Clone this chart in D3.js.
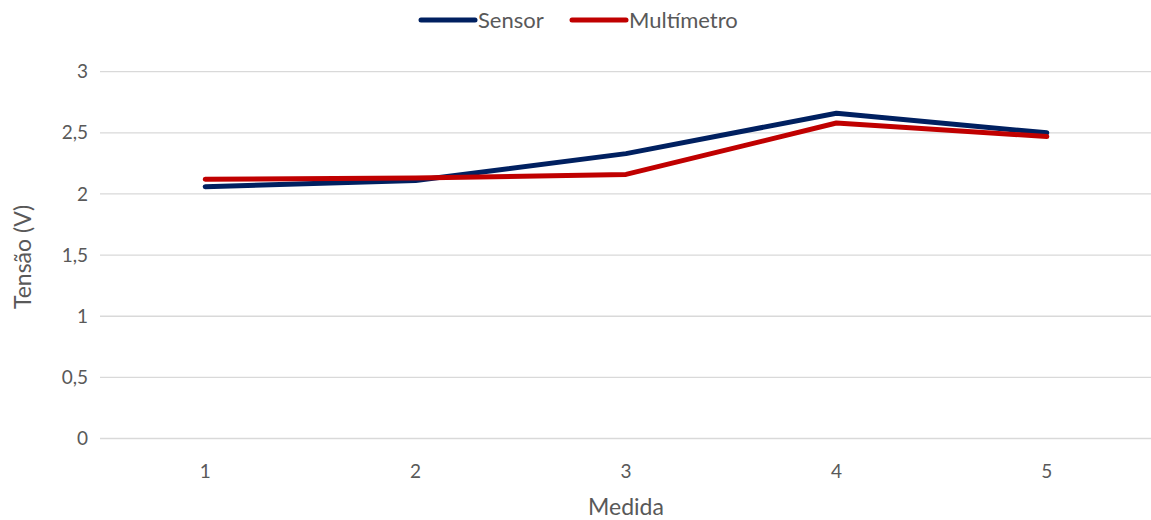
<!DOCTYPE html>
<html>
<head>
<meta charset="utf-8">
<script src="https://cdn.jsdelivr.net/npm/d3@7"></script>
<style>
  html, body { margin: 0; padding: 0; background: #fff; }
  svg { display: block; font-family: Lato, "Open Sans", sans-serif; }
</style>
</head>
<body>
<svg id="chart" width="1151" height="520"></svg>
<script>
// Measurement data
const categories = ["1", "2", "3", "4", "5"];
const sensor = [2.06, 2.11, 2.33, 2.66, 2.50];
const multimetro = [2.12, 2.13, 2.16, 2.58, 2.47];
const yTicks = [0, 0.5, 1, 1.5, 2, 2.5, 3];

const series = [
  { name: "Sensor", values: sensor, color: "#002060" },
  { name: "Multímetro", values: multimetro, color: "#C00000" }
];

const svg = d3.select("#chart");
const margin = { left: 100, right: -1, top: 72, bottom: 81 };
const W = 1151, H = 520;

const x = d3.scaleBand().domain(categories).range([margin.left, W - margin.right]);
const y = d3.scaleLinear().domain([0, 3]).range([H - margin.bottom - 0.5, margin.top - 0.3]);

// Horizontal gridlines
svg.append("g")
  .selectAll("line")
  .data(yTicks)
  .join("line")
  .attr("x1", margin.left)
  .attr("x2", W)
  .attr("y1", d => y(d))
  .attr("y2", d => y(d))
  .attr("stroke", "#d9d9d9")
  .attr("stroke-width", 1.3);

// Y axis labels
const fmt = d => String(d).replace(".", ",");
svg.append("g")
  .selectAll("text")
  .data(yTicks)
  .join("text")
  .attr("x", 88)
  .attr("y", d => y(d))
  .attr("dy", "0.35em")
  .attr("text-anchor", "end")
  .attr("fill", "#595959")
  .attr("font-size", 19)
  .text(fmt);

// X axis labels
svg.append("g")
  .selectAll("text")
  .data(categories)
  .join("text")
  .attr("x", d => x(d) + x.bandwidth() / 2)
  .attr("y", 478)
  .attr("text-anchor", "middle")
  .attr("fill", "#595959")
  .attr("font-size", 19)
  .text(d => d);

// Axis titles
svg.append("text")
  .attr("x", 626)
  .attr("y", 515)
  .attr("text-anchor", "middle")
  .attr("fill", "#595959")
  .attr("font-size", 23)
  .text("Medida");

svg.append("text")
  .attr("transform", "translate(31,257) rotate(-90)")
  .attr("text-anchor", "middle")
  .attr("fill", "#595959")
  .attr("font-size", 23)
  .text("Tensão (V)");

// Series lines
const line = d3.line()
  .x((d, i) => x(categories[i]) + x.bandwidth() / 2)
  .y(d => y(d));

svg.append("g")
  .selectAll("path")
  .data(series)
  .join("path")
  .attr("d", s => line(s.values))
  .attr("fill", "none")
  .attr("stroke", s => s.color)
  .attr("stroke-width", 5)
  .attr("stroke-linecap", "round")
  .attr("stroke-linejoin", "round");

// Legend
const legendItems = [
  { name: "Sensor", color: "#002060", x: 421 },
  { name: "Multímetro", color: "#C00000", x: 572 }
];
const lg = svg.append("g")
  .selectAll("g")
  .data(legendItems)
  .join("g")
  .attr("transform", d => `translate(${d.x},20)`);
lg.append("line")
  .attr("x1", 0).attr("x2", 54)
  .attr("y1", 0).attr("y2", 0)
  .attr("stroke", d => d.color)
  .attr("stroke-width", 5)
  .attr("stroke-linecap", "round");
lg.append("text")
  .attr("x", 57)
  .attr("y", 0)
  .attr("dy", "0.35em")
  .attr("fill", "#595959")
  .attr("font-size", 22)
  .text(d => d.name);
</script>
</body>
</html>
